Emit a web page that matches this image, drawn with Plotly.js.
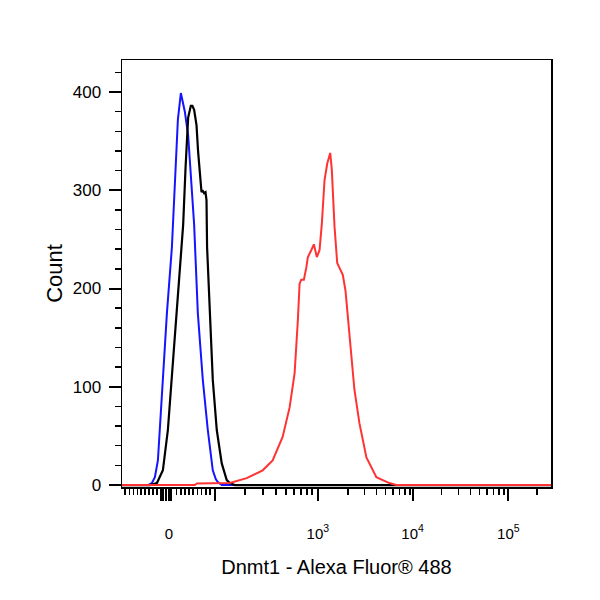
<!DOCTYPE html>
<html>
<head>
<meta charset="utf-8">
<script src="https://cdn.plot.ly/plotly-3.0.1.min.js"></script>
<style>
  html, body { margin: 0; padding: 0; background: #fff; }
  #chart { width: 600px; height: 600px; }
</style>
</head>
<body>
<div id="chart"></div>
<script>
// x is in display channels (0-1024) of the biexponential axis, y is count
const blueX = [0, 62, 71.4, 78.5, 85.7, 97.6, 107.2, 119.1, 126.2, 133.4, 140.5, 150.0, 157.9, 166.0, 172.2, 181.0, 192.9, 204.8, 216.7, 223.8, 228.6, 238.1, 1024];
const blueY = [0, 0, 2, 8, 25, 107, 175, 242, 310, 372, 399, 380, 356, 305, 265, 175, 107, 56, 15, 6, 3, 0, 0];

const blackX = [0, 66.7, 83.4, 97.6, 109.5, 121.4, 133.4, 146.0, 151.7, 157.9, 164.3, 168.0, 172.2, 177.9, 181.7, 185.7, 189.8, 192.2, 196.0, 199.3, 201.7, 203.1, 209.6, 216.7, 226.2, 238.1, 250.0, 257.2, 269.1, 1024];
const blackY = [0, 0, 2, 15, 56, 124, 191, 265, 323, 374, 386, 386, 382, 366, 339, 316, 298, 300, 297, 298, 290, 242, 175, 107, 56, 22, 5, 2, 0, 0];

const redX = [0, 173.8, 178.6, 252.4, 257.2, 297.7, 335.8, 359.6, 383.4, 400.1, 412.0, 419.8, 423.9, 427.9, 434.1, 439.8, 443.7, 451.7, 458.0, 461.3, 465.1, 471.5, 477.0, 483.4, 489.8, 497.0, 500.8, 507.3, 513.7, 519.2, 527.0, 533.4, 538.9, 542.9, 554.8, 566.7, 583.4, 607.2, 638.2, 654.9, 1024];
const redY = [0, 0, 1.5, 1.5, 2, 7, 15, 25, 49, 79, 114, 168, 205, 209, 209, 221, 232, 239, 245, 239, 232, 239, 266, 310, 327, 338, 321, 263, 226, 221, 214, 198, 171, 148, 97, 63, 28, 8, 2, 0, 0];

// axis ticks: channel positions of the long ticks (labelled or not) and the short minor marks
const xMajorVals = [92.9, 98.8, 104.8, 111.9, 116.7, 221.5, 467.5, 693.7, 922.3];
const xMajorText = ["", "", "", "0", "", "", "10<sup>3</sup>", "10<sup>4</sup>", "10<sup>5</sup>"];
const xMinorVals = [7.1, 17.4, 26.9, 36.4, 45.2, 54.8, 65.0, 74.5, 83.4,
    130.3, 140.5, 150.0, 160.3, 169.8, 180.3, 189.8, 200.0, 209.6,
    293.7, 336.8, 367.6, 391.4, 410.7, 427.2, 441.5, 454.1,
    539.0, 578.8, 607.2, 629.1, 647.0, 662.2, 675.3, 687.0,
    762.5, 802.8, 831.3, 853.5, 871.6, 886.8, 900.2, 911.8, 991.1];
const yTickVals = [0, 100, 200, 300, 400];

const font = "Liberation Sans, Arial, sans-serif";

const data = [
    { x: blueX, y: blueY, type: "scatter", mode: "lines", line: { color: "#1414ff", width: 2 } },
    { x: blackX, y: blackY, type: "scatter", mode: "lines", line: { color: "#000000", width: 2.2 } },
    { x: redX, y: redY, type: "scatter", mode: "lines", line: { color: "#ff3333", width: 2 } },
];

const layout = {
    width: 600,
    height: 600,
    showlegend: false,
    paper_bgcolor: "#ffffff",
    plot_bgcolor: "#ffffff",
    margin: { l: 122, r: 49, t: 60, b: 113 },
    font: { family: font, color: "#000" },
    xaxis: {
        range: [0, 1024],
        tickmode: "array",
        tickvals: xMajorVals,
        ticktext: xMajorText,
        ticks: "outside",
        ticklen: 12,
        tickwidth: 2,
        tickcolor: "#000",
        tickfont: { size: 15, family: font },
        ticklabelstandoff: 20,
        minor: { tickmode: "array", tickvals: xMinorVals, ticks: "outside", ticklen: 6, tickwidth: 1.5, tickcolor: "#000" },
        showline: true,
        mirror: true,
        linecolor: "#000",
        linewidth: 1.5,
        showgrid: false,
        zeroline: false,
        title: { text: "Dnmt1 - Alexa Fluor® 488", font: { size: 20, family: font }, standoff: 19 },
    },
    yaxis: {
        range: [-2, 432.6],
        tickmode: "array",
        tickvals: yTickVals,
        ticks: "outside",
        ticklen: 12,
        tickwidth: 2,
        tickcolor: "#000",
        tickfont: { size: 17, family: font },
        ticklabelstandoff: 4,
        minor: { dtick: 20, tick0: 0, ticks: "outside", ticklen: 6, tickwidth: 1.5, tickcolor: "#000" },
        showline: true,
        mirror: true,
        linecolor: "#000",
        linewidth: 1.5,
        showgrid: false,
        zeroline: false,
        title: { text: "Count", font: { size: 22, family: font }, standoff: 4 },
    },
};

Plotly.newPlot(document.getElementById("chart"), data, layout, { staticPlot: true });
</script>
</body>
</html>
